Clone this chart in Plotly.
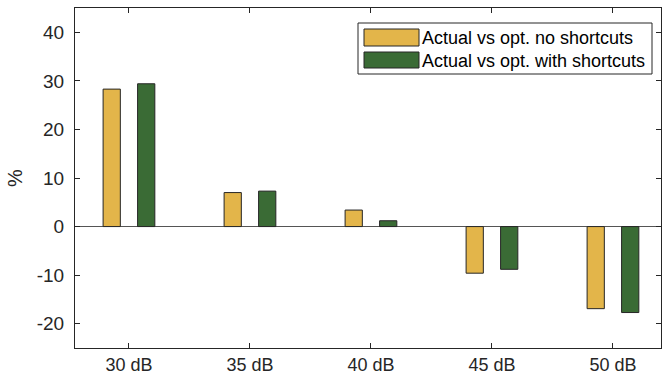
import plotly.graph_objects as go

categories = ["30 dB", "35 dB", "40 dB", "45 dB", "50 dB"]
no_shortcuts = [28.3, 7.0, 3.4, -9.6, -16.9]
with_shortcuts = [29.4, 7.3, 1.2, -8.8, -17.7]
series_names = ["Actual vs opt. no shortcuts", "Actual vs opt. with shortcuts"]
series_colors = ["#E3B54A", "#3A6B35"]
yticks = [-20, -10, 0, 10, 20, 30, 40]
xpos = [1, 2, 3, 4, 5]

W, H = 664, 378
L, R, T, B = 75, 3, 8, 30
axcol = "#262626"

def px_x(p):
    return (p - L) / (W - L - R)

def px_y(p):
    return (H - B - p) / (H - T - B)

fig = go.Figure()
for vals, name, col in zip([no_shortcuts, with_shortcuts], series_names, series_colors):
    fig.add_trace(go.Bar(x=xpos, y=vals, name=name, showlegend=False,
                         marker=dict(color=col, line=dict(color=axcol, width=1))))

# custom legend (wide swatches like the original)
shapes = [dict(type="rect", xref="paper", yref="paper",
               x0=px_x(358), x1=px_x(652), y0=px_y(74), y1=px_y(23),
               line=dict(color=axcol, width=1), fillcolor="white", layer="above")]
annotations = []
sw_rows = [(29, 46, 37.5), (52, 68, 60.5)]
for (y0, y1, yc), name, col in zip(sw_rows, series_names, series_colors):
    shapes.append(dict(type="rect", xref="paper", yref="paper",
                       x0=px_x(364), x1=px_x(419), y0=px_y(y1), y1=px_y(y0),
                       line=dict(color=axcol, width=1), fillcolor=col, layer="above"))
    annotations.append(dict(xref="paper", yref="paper", x=px_x(420), y=px_y(yc),
                            xanchor="left", yanchor="middle", showarrow=False,
                            text=name, font=dict(size=18, color="#000000")))

fig.update_layout(
    width=W, height=H,
    margin=dict(l=L, r=R, t=T, b=B, autoexpand=False),
    paper_bgcolor="white", plot_bgcolor="white",
    barmode="group", bargap=0.43, bargroupgap=0.5,
    font=dict(family="Liberation Sans, Arial", size=18, color=axcol),
    showlegend=False,
    shapes=shapes, annotations=annotations,
    xaxis=dict(range=[0.554, 5.397], tickvals=xpos, ticktext=categories,
               showline=True, linecolor=axcol, linewidth=1, mirror="ticks",
               ticks="inside", ticklen=5, tickcolor=axcol, showgrid=False,
               zeroline=False, ticklabelstandoff=0,
               tickfont=dict(size=18, color=axcol)),
    yaxis=dict(range=[-25, 45], tickvals=yticks, ticktext=[str(v) for v in yticks],
               showline=True, linecolor=axcol, linewidth=1, mirror="ticks",
               ticks="inside", ticklen=5, tickcolor=axcol, showgrid=False,
               zeroline=True, zerolinecolor="#555555", zerolinewidth=1,
               ticklabelstandoff=6,
               title=dict(text="%", font=dict(size=20, color=axcol), standoff=8),
               tickfont=dict(size=19, color=axcol)),
)

fig.write_html("out.html", config={"displayModeBar": False},
               post_script="document.body.style.margin='0';")
